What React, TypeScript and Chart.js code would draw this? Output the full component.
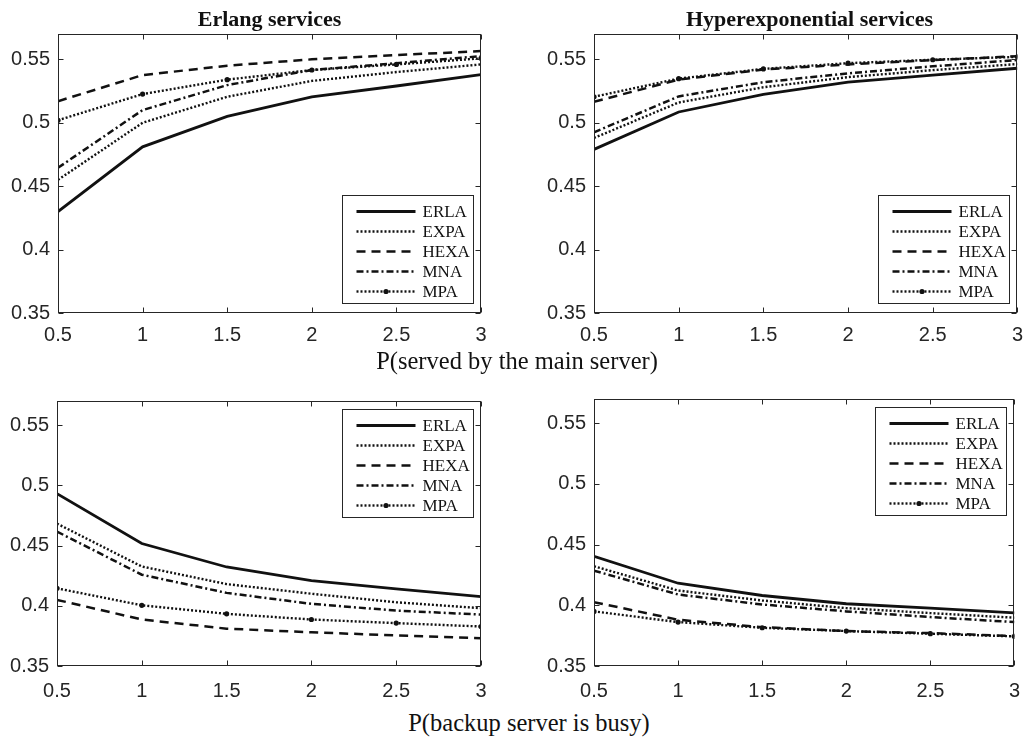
import React, { useEffect, useRef } from "react";
import { Chart, registerables } from "chart.js";

Chart.register(...registerables);

// ---------- data ----------
const SERIES_NAMES = ["ERLA", "EXPA", "HEXA", "MNA", "MPA"];
const X_VALUES = [0.5, 1, 1.5, 2, 2.5, 3];
const X_TICKS = [0.5, 1, 1.5, 2, 2.5, 3];
const Y_TICKS = [0.35, 0.4, 0.45, 0.5, 0.55];

// Erlang services, P(served by the main server)
const ERL_MAIN_ERLA = [0.43, 0.481, 0.505, 0.5205, 0.529, 0.538];
const ERL_MAIN_EXPA = [0.455, 0.5, 0.5205, 0.533, 0.54, 0.546];
const ERL_MAIN_HEXA = [0.517, 0.5376, 0.545, 0.55, 0.5534, 0.5565];
const ERL_MAIN_MNA = [0.4645, 0.51, 0.5297, 0.5416, 0.547, 0.5525];
const ERL_MAIN_MPA = [0.502, 0.5226, 0.534, 0.5416, 0.546, 0.5508];

// Hyperexponential services, P(served by the main server)
const HYP_MAIN_ERLA = [0.479, 0.5085, 0.5224, 0.532, 0.5376, 0.543];
const HYP_MAIN_EXPA = [0.488, 0.516, 0.528, 0.536, 0.5415, 0.5463];
const HYP_MAIN_HEXA = [0.5166, 0.534, 0.542, 0.546, 0.5494, 0.5525];
const HYP_MAIN_MNA = [0.4925, 0.5208, 0.532, 0.539, 0.5445, 0.5495];
const HYP_MAIN_MPA = [0.5205, 0.5348, 0.5425, 0.547, 0.5497, 0.552];

// Erlang services, P(backup server is busy)
const ERL_BK_ERLA = [0.493, 0.4517, 0.4322, 0.4208, 0.414, 0.4076];
const ERL_BK_EXPA = [0.4682, 0.4326, 0.418, 0.41, 0.4029, 0.398];
const ERL_BK_HEXA = [0.4049, 0.3886, 0.381, 0.378, 0.3754, 0.3731];
const ERL_BK_MNA = [0.4616, 0.4258, 0.4107, 0.4016, 0.396, 0.3927];
const ERL_BK_MPA = [0.4145, 0.4004, 0.3933, 0.3886, 0.3856, 0.3828];

// Hyperexponential services, P(backup server is busy)
const HYP_BK_ERLA = [0.4404, 0.4182, 0.4081, 0.4013, 0.3977, 0.3938];
const HYP_BK_EXPA = [0.4322, 0.4122, 0.404, 0.3977, 0.3936, 0.3898];
const HYP_BK_HEXA = [0.4026, 0.3881, 0.382, 0.3788, 0.3771, 0.3747];
const HYP_BK_MNA = [0.4286, 0.4089, 0.4007, 0.395, 0.3903, 0.3862];
const HYP_BK_MPA = [0.395, 0.3862, 0.3815, 0.3788, 0.3766, 0.3744];

const TITLE_LEFT = "Erlang services";
const TITLE_RIGHT = "Hyperexponential services";
const XLABEL_TOP = "P(served by the main server)";
const XLABEL_BOTTOM = "P(backup server is busy)";

// ---------- styles ----------
const INK = "#111111";
const AXIS = "#262626";
const LINE_STYLES = [
  { width: 2.8, dash: [] as number[], radius: 0 },
  { width: 2.4, dash: [2, 2], radius: 0 },
  { width: 2.5, dash: [9, 6], radius: 0 },
  { width: 2.5, dash: [7, 3, 2, 3], radius: 0 },
  { width: 2.4, dash: [2, 2], radius: 2.6 },
];

const fmt = (v: number) => String(Number(v.toFixed(2)));

const framePlugin = {
  id: "frameTicks",
  afterDatasetsDraw(chart: any) {
    const { ctx, chartArea: a, scales } = chart;
    const L = Math.round(a.left) + 0.5;
    const R = Math.round(a.right) - 0.5;
    const T = Math.round(a.top) + 0.5;
    const B = Math.round(a.bottom) - 0.5;
    const tl = 5;
    ctx.save();
    ctx.strokeStyle = AXIS;
    ctx.lineWidth = 1;
    ctx.setLineDash([]);
    ctx.beginPath();
    X_TICKS.forEach((v) => {
      const px = Math.round(scales.x.getPixelForValue(v)) + 0.5;
      ctx.moveTo(px, B);
      ctx.lineTo(px, B - tl);
      ctx.moveTo(px, T);
      ctx.lineTo(px, T + tl);
    });
    Y_TICKS.forEach((v) => {
      const py = Math.round(scales.y.getPixelForValue(v)) + 0.5;
      ctx.moveTo(L, py);
      ctx.lineTo(L + tl, py);
      ctx.moveTo(R, py);
      ctx.lineTo(R - tl, py);
    });
    ctx.stroke();
    ctx.strokeRect(L, T, R - L, B - T);
    ctx.restore();
  },
};

const boxLegendPlugin = {
  id: "boxLegend",
  afterDraw(chart: any, _args: any, opts: any) {
    const { ctx, chartArea: a } = chart;
    const W = 131;
    const H = 108;
    const left = Math.round(a.right - 8 - W) + 0.5;
    const top = Math.round(opts.corner === "tr" ? a.top + 8 : a.bottom - 10 - H) + 0.5;
    ctx.save();
    ctx.fillStyle = "#ffffff";
    ctx.fillRect(left, top, W, H);
    ctx.strokeStyle = AXIS;
    ctx.lineWidth = 1;
    ctx.setLineDash([]);
    ctx.strokeRect(left, top, W, H);
    chart.data.datasets.forEach((ds: any, i: number) => {
      const cy = top + 16 + i * 20;
      ctx.strokeStyle = INK;
      ctx.lineWidth = ds.borderWidth;
      ctx.setLineDash(ds.borderDash || []);
      ctx.beginPath();
      ctx.moveTo(left + 14, cy);
      ctx.lineTo(left + 73, cy);
      ctx.stroke();
      if (ds.pointRadius > 0) {
        ctx.setLineDash([]);
        ctx.fillStyle = INK;
        ctx.beginPath();
        ctx.arc(left + 43.5, cy, ds.pointRadius, 0, Math.PI * 2);
        ctx.fill();
      }
      ctx.fillStyle = INK;
      ctx.font = '17px "Liberation Serif"';
      ctx.textAlign = "left";
      ctx.textBaseline = "middle";
      ctx.fillText(ds.label, left + 80, cy + 1);
    });
    ctx.restore();
  },
};

type Geom = {
  left: number;
  top: number;
  w: number;
  h: number;
  padTop: number;
  padRight: number;
  yW: number;
  xH: number;
  xPad: number;
};

function ChartPanel({ series, corner, g }: { series: number[][]; corner: string; g: Geom }) {
  const ref = useRef<HTMLCanvasElement | null>(null);
  useEffect(() => {
    if (!ref.current) return;
    const datasets = series.map((vals, i) => ({
      label: SERIES_NAMES[i],
      data: X_VALUES.map((x, j) => ({ x, y: vals[j] })),
      borderColor: INK,
      backgroundColor: INK,
      borderWidth: LINE_STYLES[i].width,
      borderDash: LINE_STYLES[i].dash,
      pointRadius: LINE_STYLES[i].radius,
      pointBackgroundColor: INK,
      pointBorderWidth: 0,
      tension: 0,
      fill: false,
    }));
    const tickFont = { family: '"Liberation Sans", Arial, sans-serif', size: 20 };
    const chart = new Chart(ref.current, {
      type: "line",
      data: { datasets },
      plugins: [framePlugin, boxLegendPlugin],
      options: {
        responsive: false,
        animation: false,
        devicePixelRatio: 1,
        layout: { padding: { top: g.padTop, right: g.padRight, left: 0, bottom: 0 } },
        plugins: {
          legend: { display: false },
          tooltip: { enabled: false },
          boxLegend: { corner },
        } as any,
        scales: {
          x: {
            type: "linear",
            min: 0.5,
            max: 3,
            afterBuildTicks: (s: any) => {
              s.ticks = X_TICKS.map((v) => ({ value: v }));
            },
            afterFit: (s: any) => {
              s.height = g.xH;
            },
            grid: { display: false, drawTicks: false },
            border: { display: false },
            ticks: {
              padding: g.xPad,
              font: tickFont,
              color: AXIS,
              maxRotation: 0,
              autoSkip: false,
              callback: (v: any) => fmt(Number(v)),
            },
          },
          y: {
            type: "linear",
            min: 0.35,
            max: 0.57,
            afterBuildTicks: (s: any) => {
              s.ticks = Y_TICKS.map((v) => ({ value: v }));
            },
            afterFit: (s: any) => {
              s.width = g.yW;
            },
            grid: { display: false, drawTicks: false },
            border: { display: false },
            ticks: {
              padding: 8,
              font: tickFont,
              color: AXIS,
              autoSkip: false,
              callback: (v: any) => fmt(Number(v)),
            },
          },
        },
      } as any,
    });
    return () => chart.destroy();
  }, []);
  return (
    <canvas
      ref={ref}
      width={g.w}
      height={g.h}
      style={{ position: "absolute", left: g.left, top: g.top, width: g.w, height: g.h }}
    />
  );
}

const textBase: React.CSSProperties = {
  position: "absolute",
  textAlign: "center",
  color: INK,
  fontFamily: '"Liberation Serif", "Times New Roman", serif',
  whiteSpace: "nowrap",
};

export default function App() {
  return (
    <div
      style={{
        position: "absolute",
        left: 0,
        top: 0,
        width: 1033,
        height: 740,
        background: "#ffffff",
        overflow: "hidden",
      }}
    >
      <ChartPanel
        series={[ERL_MAIN_ERLA, ERL_MAIN_EXPA, ERL_MAIN_HEXA, ERL_MAIN_MNA, ERL_MAIN_MPA]}
        corner="br"
        g={{ left: 0, top: 0, w: 516, h: 345, padTop: 34, padRight: 35, yW: 58, xH: 32, xPad: 10 }}
      />
      <ChartPanel
        series={[HYP_MAIN_ERLA, HYP_MAIN_EXPA, HYP_MAIN_HEXA, HYP_MAIN_MNA, HYP_MAIN_MPA]}
        corner="br"
        g={{ left: 516, top: 0, w: 517, h: 345, padTop: 34, padRight: 8, yW: 78, xH: 32, xPad: 10 }}
      />
      <ChartPanel
        series={[ERL_BK_ERLA, ERL_BK_EXPA, ERL_BK_HEXA, ERL_BK_MNA, ERL_BK_MPA]}
        corner="tr"
        g={{ left: 0, top: 370, w: 516, h: 335, padTop: 31, padRight: 35, yW: 57, xH: 39, xPad: 13 }}
      />
      <ChartPanel
        series={[HYP_BK_ERLA, HYP_BK_EXPA, HYP_BK_HEXA, HYP_BK_MNA, HYP_BK_MPA]}
        corner="tr"
        g={{ left: 516, top: 370, w: 517, h: 335, padTop: 29, padRight: 9, yW: 78, xH: 39, xPad: 13 }}
      />
      <div style={{ ...textBase, left: 0, width: 539, top: 5, fontSize: 22, lineHeight: "28px", fontWeight: "bold" }}>
        {TITLE_LEFT}
      </div>
      <div style={{ ...textBase, left: 594, width: 431, top: 5, fontSize: 22, lineHeight: "28px", fontWeight: "bold" }}>
        {TITLE_RIGHT}
      </div>
      <div style={{ ...textBase, left: 17, width: 1000, top: 346, fontSize: 24.5, lineHeight: "30px" }}>
        {XLABEL_TOP}
      </div>
      <div style={{ ...textBase, left: 29, width: 1000, top: 708, fontSize: 24.5, lineHeight: "30px" }}>
        {XLABEL_BOTTOM}
      </div>
    </div>
  );
}
